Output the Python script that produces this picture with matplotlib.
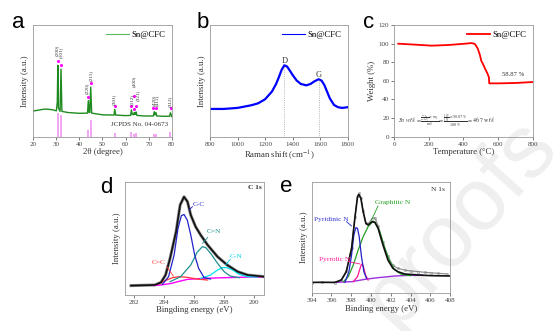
import matplotlib
matplotlib.use('Agg')
from matplotlib import pyplot as plt

# ---------------- data ----------------
# a: XRD of Sn@CFC
xrd_2theta = [20, 22, 25, 28, 30.0, 30.4, 30.64, 30.9, 31.6, 32.02, 32.4, 35, 40, 43.5, 43.87,
              44.2, 44.5, 44.9, 45.3, 50, 55.0, 55.33, 55.7, 60, 62.2, 62.54, 62.9, 63.5, 63.78,
              64.1, 64.3, 64.58, 64.9, 68, 72.1, 72.42, 72.8, 73.19, 73.5, 77, 79.1, 79.47, 80]
xrd_int = [22.3, 23.0, 24.0, 23.5, 22.5, 30.0, 62.0, 25.0, 22.0, 58.6, 22.0, 21.0, 20.3, 20.5, 31.3,
           21.0, 21.0, 43.0, 20.5, 19.0, 18.8, 23.8, 18.8, 18.3, 18.5, 23.2, 19.5, 19.0, 21.0,
           19.5, 19.5, 21.5, 18.5, 18.0, 18.0, 21.7, 19.0, 21.0, 18.0, 17.7, 17.8, 20.8, 17.5]
jcpds_pos = [30.64, 32.02, 43.87, 44.90, 55.33, 62.54, 63.78, 64.58, 72.42, 73.19, 79.47]
jcpds_int = [20.3, 18.5, 5.8, 14.5, 3.5, 4.3, 2.0, 3.5, 2.0, 2.0, 4.0]
mark_pos = [30.6, 32.2, 43.9, 44.9, 55.4, 62.5, 63.7, 63.45, 64.6, 72.0, 73.1, 79.6]
mark_int = [65.8, 62.3, 34.3, 46.4, 26.7, 26.7, 35.4, 24.1, 26.4, 25.0, 25.0, 25.0]
hkl_labels = ['(200)', '(101)', '(220)', '(211)', '(301)', '(112)', '(400)', '(321)', '(420)', '(411)', '(312)']
hkl_x = [30.1, 32.1, 43.3, 45.1, 55.1, 62.6, 63.8, 65.2, 72.3, 73.6, 79.4]
hkl_y = [75.0, 73.0, 41.6, 53.6, 32.7, 32.7, 47.8, 36.2, 31.9, 31.9, 30.4]

# b: Raman
raman_shift = [800, 900, 1000, 1100, 1150, 1200, 1250, 1280, 1300, 1320, 1340, 1360, 1380, 1400,
               1430, 1460, 1500, 1530, 1560, 1590, 1610, 1630, 1650, 1670, 1700, 1730, 1760, 1800]
raman_int = [24.1, 24.1, 25.0, 27.3, 29.0, 32.5, 39.2, 45.8, 51.6, 58.0, 62.0, 60.9, 57.4, 53.6,
             48.7, 45.8, 44.6, 45.8, 48.2, 49.9, 48.7, 45.0, 39.2, 33.4, 27.6, 25.6, 25.0, 25.6]
band_pos = [1340, 1590]
band_int = [62.0, 49.9]
band_names = ['D', 'G']

# c: TGA
tga_temp = [23, 120, 216, 312, 409, 447, 466, 482, 495, 501, 503, 509, 524, 540, 547, 549,
            601, 698, 800]
tga_weight = [99.9, 98.9, 97.8, 98.5, 99.9, 100.6, 99.6, 94.9, 87.8, 83.1, 81.3, 79.5, 73.4,
              67.3, 63.8, 57.3, 57.3, 57.7, 58.7]

# d: C 1s
c1s_be = [281.8, 283.4, 283.8, 284.1, 284.4, 284.8, 285.07, 285.33, 285.56, 285.78, 286.1,
          286.44, 286.9, 287.56, 288.2, 288.9, 289.56, 290.67]
c1s_fit = [8.4, 9.0, 11.3, 17.9, 32.8, 56.7, 80.6, 88.0, 83.6, 71.6, 61.2, 53.7, 44.8, 34.3,
           26.9, 20.9, 17.9, 16.4]
c1s_bg_be = [283.2, 283.8, 284.5, 284.9, 285.56, 286.7, 288.0, 289.5, 290.67]
c1s_bg = [8.6, 9.0, 10.4, 11.9, 14.0, 14.9, 15.5, 16.0, 16.4]
cc_be = [283.9, 284.3, 284.67, 284.93, 285.15, 285.33, 285.55, 285.78, 286.04, 286.3, 286.67, 287.1]
cc_int = [9.6, 16.4, 35.8, 59.7, 71.0, 72.2, 67.0, 53.7, 35.8, 23.9, 15.5, 14.3]
cn2_be = [284.4, 285.1, 285.78, 286.2, 286.55, 286.78, 287.1, 287.56, 288.0, 288.4, 289.0]
cn2_int = [11.9, 16.4, 26.9, 38.2, 43.3, 42.4, 37.3, 28.4, 20.9, 17.0, 15.5]
cn_be = [286.44, 287.1, 287.56, 287.9, 288.2, 288.56, 289.0, 289.56, 290.2]
cn_int = [14.9, 17.9, 22.4, 24.5, 24.5, 22.4, 18.5, 16.4, 16.1]
cc2_be = [283.56, 284.0, 284.56, 285.0, 285.56, 286.2, 286.9]
cc2_int = [9.6, 12.5, 15.5, 16.4, 15.8, 14.3, 13.4]

# e: N 1s
n1s_be = [394.0, 396.35, 397.0, 397.5, 398.03, 398.36, 398.63, 398.77, 398.97, 399.2, 399.47,
          399.7, 400.1, 400.38, 400.71, 401.2, 401.7, 402.2, 402.7, 403.4, 404.74, 406.08, 408.0]
n1s_fit = [11.3, 11.3, 13.4, 20.9, 41.8, 68.7, 88.0, 90.0, 86.6, 74.6, 64.2, 62.7, 65.7, 65.0,
           59.7, 44.8, 31.3, 23.9, 20.9, 18.8, 17.9, 17.3, 17.0]
n1s_raw_be = [394.0, 395.0, 396.35, 397.0, 397.5, 398.03, 398.36, 398.63, 398.77, 398.97, 399.2,
              399.47, 399.7, 400.1, 400.38, 400.71, 401.2, 401.7, 402.2, 402.7, 403.4, 404.0,
              404.74, 405.4, 406.08, 406.8, 407.7]
n1s_raw = [11.0, 11.5, 11.0, 13.8, 21.5, 42.5, 69.5, 89.0, 91.0, 87.0, 75.0, 64.5, 63.5, 68.5,
           69.3, 62.0, 47.5, 34.5, 26.5, 23.9, 22.3, 21.5, 21.0, 20.3, 19.8, 19.4, 18.8]
n1s_bg_be = [396.35, 398.03, 399.37, 400.7, 402.4, 404.0, 405.25]
n1s_bg = [11.3, 11.9, 14.0, 15.5, 17.0, 17.6, 17.6]
pyd_be = [397.36, 397.76, 398.03, 398.26, 398.46, 398.63, 398.8, 399.03, 399.27, 399.54]
pyd_int = [11.3, 20.9, 35.8, 53.7, 60.3, 59.7, 52.2, 34.3, 20.9, 14.9]
pyr_be = [398.2, 398.63, 398.87, 399.03, 399.2, 399.44, 399.7]
pyr_int = [11.9, 16.4, 23.3, 27.5, 26.3, 17.9, 13.4]
gra_be = [397.2, 397.7, 398.2, 398.7, 399.2, 399.7, 400.1, 400.38, 400.88, 401.38, 401.9,
          402.4, 403.06, 404.0]
gra_int = [11.9, 16.4, 26.9, 40.3, 52.2, 61.2, 65.0, 65.7, 56.7, 41.8, 29.9, 22.4, 18.5, 17.3]

# ---------------- style ----------------
plt.rcParams['font.family'] = ['Liberation Serif', 'DejaVu Serif']
plt.rcParams['mathtext.fontset'] = 'stix'
AX_COL = '#999999'
TXT_COL = '#333333'


def style_axes(ax, yticks=False):
    ax.patch.set_alpha(0)
    for s in ax.spines.values():
        s.set_color(AX_COL)
        s.set_linewidth(0.6)
    ax.tick_params(labelsize=5, colors='#444444', length=2, width=0.5, direction='out', pad=1.5)
    if not yticks:
        ax.set_yticks([])


fig = plt.figure(figsize=(5.54, 3.31), dpi=100)

# watermark
fig.text(1.01, 0.555, 'proofs', family='Liberation Sans', fontsize=64,
         color='#efefef', rotation=48, rotation_mode='anchor', ha='right', va='baseline',
         zorder=-5)

# ---- a ----
ax1 = fig.add_axes([0.0601, 0.587, 0.2498, 0.3375])
ax1.plot(xrd_2theta, xrd_int, color='#1f8a1f', lw=1.0, label='Sn@CFC')
ax1.vlines(jcpds_pos, 0, jcpds_int, color='#f08cf0', lw=1.1)
ax1.plot(mark_pos, mark_int, 'o', color='#ff00ff', ms=2.2, mec='none')
for lab, x, y in zip(hkl_labels, hkl_x, hkl_y):
    ax1.text(x, y, lab, rotation=90, fontsize=3.8, ha='center', va='center', color=TXT_COL)
ax1.text(78.5, 11, 'JCPDS No. 04-0673', fontsize=5, ha='right', va='center', color=TXT_COL)
ax1.set_xlim(20, 80)
ax1.set_ylim(0, 97)
ax1.set_xticks(range(20, 81, 10))
ax1.set_xlabel('2θ (degree)', fontsize=6.3, color=TXT_COL, labelpad=1)
ax1.set_ylabel('Intensity (a.u.)', fontsize=6.3, color=TXT_COL, labelpad=3)
leg = ax1.legend(loc='upper right', frameon=False, fontsize=6.3, handlelength=2.6,
                 borderaxespad=0.3, handletextpad=0.3)
leg.get_lines()[0].set_color('#5cb85c')
leg.get_lines()[0].set_linewidth(0.8)
style_axes(ax1)

# ---- b ----
ax2 = fig.add_axes([0.379, 0.587, 0.2486, 0.3375])
ax2.plot(raman_shift, raman_int, color='#0000ff', lw=1.6, label='Sn@CFC')
for x, y, n in zip(band_pos, band_int, band_names):
    ax2.plot([x, x], [0, y], color='#888888', lw=0.5, ls=':')
    ax2.text(x, y + 4, n, fontsize=6, ha='center', va='center', color=TXT_COL)
ax2.set_xlim(800, 1800)
ax2.set_ylim(0, 97)
ax2.set_xticks(range(800, 1801, 200))
ax2.set_xlabel('Raman shift (cm$^{-1}$)', fontsize=6.3, color=TXT_COL, labelpad=1)
ax2.set_ylabel('Intensity (a.u.)', fontsize=6.3, color=TXT_COL, labelpad=3)
leg = ax2.legend(loc='upper right', frameon=False, fontsize=6.3, handlelength=2.6,
                 borderaxespad=0.3, handletextpad=0.3)
leg.get_lines()[0].set_linewidth(0.8)
style_axes(ax2)

# ---- c ----
ax3 = fig.add_axes([0.7117, 0.587, 0.2498, 0.3375])
ax3.plot(tga_temp, tga_weight, color='#ff0000', lw=1.3, label='Sn@CFC')
ax3.text(686, 67, '58.87 %', fontsize=4.8, ha='center', va='center', color=TXT_COL)
ax3.text(20, 16, r'$Sn\ wt\% = \frac{\frac{M_{Sn}}{M_{SnO_2}}\times\, m_1}{m_0}'
         r' = \frac{\frac{119}{151}\times 58.87\ \%}{100\ \%} = 46.7\ \mathrm{wt\%}$',
         fontsize=4.2, ha='left', va='center', color=TXT_COL)
ax3.set_xlim(0, 800)
ax3.set_ylim(0, 120)
ax3.set_xticks(range(0, 801, 200))
ax3.set_yticks(range(0, 121, 20))
ax3.set_xlabel('Temperature (°C)', fontsize=6.3, color=TXT_COL, labelpad=1)
ax3.set_ylabel('Weight (%)', fontsize=6.3, color=TXT_COL, labelpad=2)
leg = ax3.legend(loc='upper right', frameon=False, fontsize=6.3, handlelength=2.6,
                 borderaxespad=0.3, handletextpad=0.3)
style_axes(ax3, yticks=True)

# ---- d ----
ax4 = fig.add_axes([0.2256, 0.1088, 0.2514, 0.3405])
ax4.plot(c1s_be, c1s_fit, color='#8c8c8c', lw=2.2)
ax4.plot(c1s_bg_be, c1s_bg, color='#ff00ff', lw=1.0)
ax4.plot(cc2_be, cc2_int, color='#ff3333', lw=0.9)
ax4.plot(cn_be, cn_int, color='#00e0f0', lw=0.9)
ax4.plot(cn2_be, cn2_int, color='#1f8f8f', lw=0.9)
ax4.plot(cc_be, cc_int, color='#2222c8', lw=0.9)
ax4.plot(c1s_be, c1s_fit, color='#111111', lw=1.2)
ax4.text(286.3, 81.2, 'C-C', fontsize=5.3, color='#3333cc', ha='center', va='center')
ax4.plot([285.89, 285.67], [79.1, 76.1], color='#2222c8', lw=0.6)
ax4.text(287.33, 56.7, 'C=N', fontsize=5.3, color='#1f8f8f', ha='center', va='center')
ax4.plot([286.9, 286.56], [51.6, 46.3], color='#1f8f8f', lw=0.6)
ax4.text(288.78, 34.9, 'C-N', fontsize=5.3, color='#00d0e8', ha='center', va='center')
ax4.plot([288.4, 288.1], [31.9, 26.9], color='#00d0e8', lw=0.6)
ax4.text(283.67, 29.0, 'C=C', fontsize=5.3, color='#ff3333', ha='center', va='center')
ax4.plot([284.18, 284.62], [25.4, 17.0], color='#ff3333', lw=0.6)
ax4.text(290.5, 96.4, 'C 1s', fontsize=5.3, color=TXT_COL, ha='right', va='center',
         fontweight='bold')
ax4.set_xlim(281.4, 290.67)
ax4.set_ylim(0, 101)
ax4.set_xticks(range(282, 291, 2))
ax4.set_xlabel('Bingding energy (eV)', fontsize=6.3, color=TXT_COL, labelpad=1)
ax4.set_ylabel('Intensity (a.u.)', fontsize=6.3, color=TXT_COL, labelpad=3)
style_axes(ax4)

# ---- e ----
ax5 = fig.add_axes([0.5626, 0.1139, 0.2502, 0.3372])
ax5.plot(n1s_raw_be, n1s_raw, color='#888888', lw=0.8, marker='o', ms=1.6, mfc='none', mew=0.4)
ax5.plot(n1s_bg_be, n1s_bg, color='#9a30e0', lw=1.0)
ax5.plot(gra_be, gra_int, color='#22a022', lw=0.9)
ax5.plot(pyr_be, pyr_int, color='#ff1493', lw=0.9)
ax5.plot(pyd_be, pyd_int, color='#2222c8', lw=0.9)
ax5.plot(n1s_be, n1s_fit, color='#111111', lw=1.2)
ax5.text(396.0, 67.2, 'Pyridinic N', fontsize=5.3, color='#3333cc', ha='center', va='center')
ax5.plot([397.52, 398.03], [65.7, 61.8], color='#2222c8', lw=0.6)
ax5.text(396.35, 31.9, 'Pyrrolic N', fontsize=5.3, color='#ff1493', ha='center', va='center')
ax5.plot([397.7, 398.87], [29.9, 27.8], color='#ff1493', lw=0.6)
ax5.text(402.2, 82.7, 'Graphitic N', fontsize=5.3, color='#22a022', ha='center', va='center')
ax5.plot([400.7, 400.04], [79.7, 67.2], color='#22a022', lw=0.6)
ax5.text(407.5, 94.6, 'N 1s', fontsize=5.3, color=TXT_COL, ha='right', va='center')
ax5.set_xlim(394, 408)
ax5.set_ylim(1.5, 101.5)
ax5.set_xticks(range(394, 409, 2))
ax5.set_xlabel('Binding energy (eV)', fontsize=6.3, color=TXT_COL, labelpad=1)
ax5.set_ylabel('Intensity (a.u.)', fontsize=6.3, color=TXT_COL, labelpad=3)
style_axes(ax5)

# panel letters
for x, y, s in [(0.021, 0.9145, 'a'), (0.355, 0.9145, 'b'), (0.655, 0.9145, 'c'),
                (0.1805, 0.416, 'd'), (0.5054, 0.421, 'e')]:
    fig.text(x, y, s, family='Liberation Sans', fontsize=16, ha='left', va='baseline')

fig.savefig('out.png', dpi=100)
